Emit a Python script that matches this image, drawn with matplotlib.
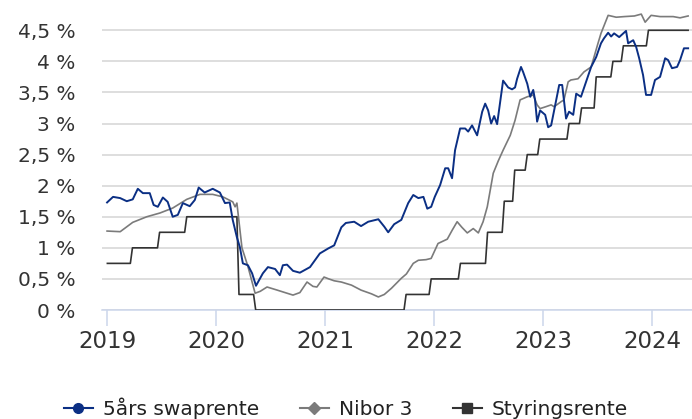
import matplotlib
matplotlib.use("Agg")
import matplotlib.pyplot as plt
import pandas as pd
from matplotlib.lines import Line2D

plt.rcParams['font.family'] = ['DejaVu Sans']

# 5 years swap rate
swap_dates = [
    "2019-01-01", "2019-01-21", "2019-02-14", "2019-03-08", "2019-03-28", "2019-04-14",
    "2019-05-01", "2019-05-24", "2019-06-06", "2019-06-20", "2019-07-07", "2019-07-23",
    "2019-08-09", "2019-08-26", "2019-09-12", "2019-10-05", "2019-10-22", "2019-11-04",
    "2019-11-24", "2019-12-21", "2020-01-14", "2020-01-31", "2020-02-16", "2020-02-26",
    "2020-03-11", "2020-03-21", "2020-03-31", "2020-04-17", "2020-05-01", "2020-05-14",
    "2020-06-06", "2020-06-23", "2020-07-17", "2020-08-02", "2020-08-12", "2020-08-26",
    "2020-09-15", "2020-10-08", "2020-11-11", "2020-12-14", "2021-01-11", "2021-01-31",
    "2021-02-24", "2021-03-11", "2021-04-08", "2021-05-01", "2021-05-25", "2021-06-28",
    "2021-07-18", "2021-07-31", "2021-08-20", "2021-09-13", "2021-10-06", "2021-10-23",
    "2021-11-09", "2021-11-26", "2021-12-09", "2021-12-22", "2022-01-03", "2022-01-21",
    "2022-02-07", "2022-02-17", "2022-03-02", "2022-03-12", "2022-03-29", "2022-04-15",
    "2022-04-25", "2022-05-08", "2022-05-25", "2022-06-11", "2022-06-21", "2022-07-01",
    "2022-07-11", "2022-07-21", "2022-07-31", "2022-08-20", "2022-09-06", "2022-09-19",
    "2022-09-29", "2022-10-06", "2022-10-19", "2022-10-26", "2022-11-09", "2022-11-19",
    "2022-11-29", "2022-12-05", "2022-12-12", "2022-12-22", "2023-01-08", "2023-01-18",
    "2023-01-28", "2023-02-07", "2023-02-24", "2023-03-06", "2023-03-19", "2023-03-29",
    "2023-04-12", "2023-04-22", "2023-05-08", "2023-05-25", "2023-06-11", "2023-06-28",
    "2023-07-14", "2023-07-24", "2023-08-07", "2023-08-17", "2023-08-27", "2023-09-13",
    "2023-10-06", "2023-10-13", "2023-10-30", "2023-11-09", "2023-11-19", "2023-12-02",
    "2023-12-12", "2023-12-29", "2024-01-11", "2024-01-28", "2024-02-14", "2024-02-24",
    "2024-03-08", "2024-03-25", "2024-04-04", "2024-04-17", "2024-05-01",
]
swap_values = [
    1.73, 1.82, 1.80, 1.75, 1.78, 1.95,
    1.88, 1.88, 1.69, 1.66, 1.81, 1.74,
    1.50, 1.53, 1.72, 1.67, 1.77, 1.97,
    1.89, 1.95, 1.89, 1.72, 1.73, 1.45,
    1.17, 1.01, 0.75, 0.72, 0.59, 0.39,
    0.59, 0.69, 0.66, 0.56, 0.72, 0.73,
    0.63, 0.60, 0.69, 0.91, 0.99, 1.04,
    1.33, 1.40, 1.42, 1.35, 1.42, 1.46,
    1.34, 1.25, 1.38, 1.45, 1.72, 1.85,
    1.80, 1.82, 1.63, 1.66, 1.82, 2.01,
    2.28, 2.28, 2.12, 2.57, 2.92, 2.92,
    2.87, 2.97, 2.81, 3.19, 3.32, 3.21,
    3.00, 3.12, 2.99, 3.69, 3.58, 3.55,
    3.58, 3.72, 3.91, 3.83, 3.64, 3.43,
    3.54, 3.38, 3.03, 3.21, 3.14, 2.94,
    2.97, 3.21, 3.62, 3.62, 3.08, 3.19,
    3.14, 3.48, 3.43, 3.67, 3.91, 4.07,
    4.29, 4.37, 4.46, 4.40, 4.45, 4.39,
    4.49, 4.29, 4.34, 4.23, 4.05, 3.78,
    3.46, 3.46, 3.70, 3.75, 4.05, 4.02,
    3.89, 3.91, 4.02, 4.21, 4.21,
]

# Nibor 3 months
nibor_dates = [
    "2019-01-01", "2019-02-14", "2019-03-28", "2019-05-14", "2019-06-27", "2019-08-09",
    "2019-09-25", "2019-11-08", "2019-12-21", "2020-01-24", "2020-02-26", "2020-03-05",
    "2020-03-11", "2020-03-28", "2020-04-17", "2020-05-11", "2020-05-28", "2020-06-20",
    "2020-07-24", "2020-08-26", "2020-09-15", "2020-10-08", "2020-11-01", "2020-11-21",
    "2020-12-04", "2020-12-28", "2021-01-13", "2021-01-31", "2021-02-24", "2021-03-30",
    "2021-05-01", "2021-06-05", "2021-06-28", "2021-07-18", "2021-08-11", "2021-09-13",
    "2021-09-30", "2021-10-23", "2021-11-09", "2021-12-05", "2021-12-22", "2022-01-14",
    "2022-02-14", "2022-03-02", "2022-03-19", "2022-04-04", "2022-04-22", "2022-05-12",
    "2022-05-29", "2022-06-14", "2022-06-28", "2022-07-18", "2022-08-04", "2022-08-20",
    "2022-09-13", "2022-09-29", "2022-10-16", "2022-11-09", "2022-11-29", "2022-12-12",
    "2022-12-22", "2023-01-10", "2023-01-28", "2023-02-07", "2023-03-02", "2023-03-12",
    "2023-03-26", "2023-04-04", "2023-04-28", "2023-05-18", "2023-06-11", "2023-07-04",
    "2023-07-14", "2023-08-07", "2023-09-03", "2023-09-30", "2023-11-03", "2023-11-26",
    "2023-12-09", "2023-12-29", "2024-01-28", "2024-03-12", "2024-04-04", "2024-05-01",
]
nibor_values = [
    1.27, 1.26, 1.41, 1.50, 1.56, 1.64,
    1.78, 1.86, 1.86, 1.82, 1.74, 1.66,
    1.72, 1.00, 0.70, 0.27, 0.30, 0.37,
    0.32, 0.27, 0.24, 0.28, 0.45, 0.38,
    0.37, 0.53, 0.50, 0.47, 0.45, 0.40,
    0.32, 0.26, 0.21, 0.25, 0.35, 0.51,
    0.58, 0.75, 0.80, 0.81, 0.83, 1.07,
    1.14, 1.28, 1.42, 1.33, 1.24, 1.31,
    1.24, 1.42, 1.66, 2.20, 2.40, 2.57,
    2.81, 3.05, 3.38, 3.43, 3.46, 3.30,
    3.24, 3.27, 3.30, 3.27, 3.35, 3.38,
    3.67, 3.70, 3.72, 3.83, 3.91, 4.29,
    4.45, 4.74, 4.71, 4.72, 4.73, 4.76,
    4.63, 4.74, 4.72, 4.72, 4.70, 4.73,
]

# Styringsrente: date of each change and the new rate
policy_dates = [
    "2018-12-01", "2019-03-22", "2019-06-21", "2019-09-20", "2020-03-16", "2020-05-08",
    "2021-09-24", "2021-12-17", "2022-03-25", "2022-06-24", "2022-08-19", "2022-09-23",
    "2022-11-04", "2022-12-16", "2023-03-24", "2023-05-05", "2023-06-23", "2023-08-18",
    "2023-09-22", "2023-12-15",
]
policy_values = [
    0.75, 1.00, 1.25, 1.50, 0.25, 0.00,
    0.25, 0.50, 0.75, 1.25, 1.75, 2.25,
    2.50, 2.75, 3.00, 3.25, 3.75, 4.00,
    4.25, 4.50,
]

y_ticks = [0, 0.5, 1, 1.5, 2, 2.5, 3, 3.5, 4, 4.5]
y_labels = ["0 %", "0,5 %", "1 %", "1,5 %", "2 %", "2,5 %", "3 %", "3,5 %", "4 %", "4,5 %"]
year_labels = ["2019", "2020", "2021", "2022", "2023", "2024"]
series_names = ["5års swaprente", "Nibor 3", "Styringsrente"]

# weekly policy rate series
weeks = pd.date_range("2019-01-02", "2024-05-01", freq="W-WED")
policy = pd.Series(policy_values, index=pd.to_datetime(policy_dates)).reindex(weeks, method="ffill")

c_swap = "#0b2f84"
c_nibor = "#7b7b7b"
c_policy = "#333333"
text_c = "#333333"

fig = plt.figure(figsize=(6.92, 4.19), dpi=100)
ax = fig.add_axes([102 / 692, 109 / 419, 590 / 692, 299 / 419])

ax.plot(pd.to_datetime(nibor_dates), nibor_values, color=c_nibor, lw=1.2, zorder=3)
ax.plot(policy.index, policy.values, color=c_policy, lw=1.2, zorder=3)
ax.plot(pd.to_datetime(swap_dates), swap_values, color=c_swap, lw=1.4, zorder=4)

ax.set_xlim(pd.Timestamp("2018-12-15"), pd.Timestamp("2024-05-14"))
ax.set_ylim(0, 4.81)

ax.set_yticks(y_ticks)
ax.set_yticklabels(y_labels)
ax.set_xticks(pd.to_datetime([y + "-01-01" for y in year_labels]))
ax.set_xticklabels(year_labels)

ax.yaxis.grid(True, color="#d4d4d4", lw=1.1)
ax.set_axisbelow(True)
for s in ["left", "right", "top"]:
    ax.spines[s].set_visible(False)
ax.spines["bottom"].set_color("#ccd6eb")
ax.spines["bottom"].set_linewidth(1.1)

ax.tick_params(axis="y", length=0, pad=19, labelsize=14.5, labelcolor=text_c)
ax.tick_params(axis="x", length=11.5, width=1.1, color="#ccd6eb", pad=3,
               labelsize=16.5, labelcolor=text_c)

handles = [
    Line2D([], [], color=c_swap, lw=1.5, marker="o", markersize=7),
    Line2D([], [], color=c_nibor, lw=1.5, marker="D", markersize=6),
    Line2D([], [], color=c_policy, lw=1.5, marker="s", markersize=7),
]
fig.legend(handles, series_names, loc="center", bbox_to_anchor=(0.5, 11 / 419), ncol=3,
           frameon=False, fontsize=14.5, handlelength=1.45, handletextpad=0.5,
           columnspacing=2.0, labelcolor="#222222")

fig.savefig("out.png", dpi=100)
